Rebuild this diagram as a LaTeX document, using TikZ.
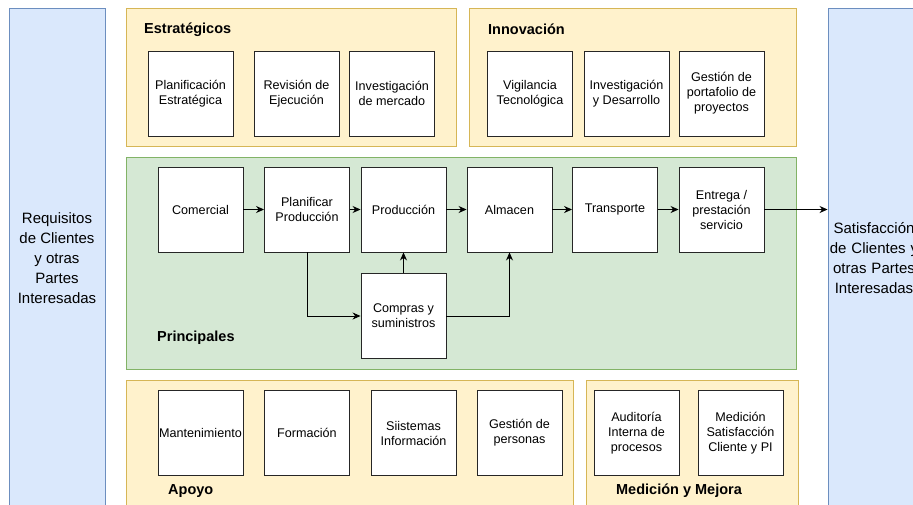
\documentclass[tikz,border=0pt]{standalone}
\usepackage{fontspec}
\setmainfont{Liberation Sans}
\usetikzlibrary{arrows.meta}
\definecolor{ylwfill}{HTML}{FFF2CC}
\definecolor{ylwline}{HTML}{D6B656}
\definecolor{grnfill}{HTML}{D5E8D4}
\definecolor{grnline}{HTML}{82B366}
\definecolor{blufill}{HTML}{DAE8FC}
\definecolor{bluline}{HTML}{6C8EBF}
\tikzset{
  ylwgroup/.style={draw=ylwline, fill=ylwfill, line width=0.9pt},
  grngroup/.style={draw=grnline, fill=grnfill, line width=0.9pt},
  bluepanel/.style={draw=bluline, fill=blufill, line width=0.9pt,
    minimum width=96pt, minimum height=500pt, inner sep=0pt,
    align=center, font=\fontsize{15}{20}\selectfont},
  procbox/.style={draw=black!85, fill=white, line width=0.9pt,
    minimum width=85pt, minimum height=85pt, inner sep=1pt,
    align=center, font=\fontsize{12.6}{15}\selectfont},
  grouptitle/.style={font=\bfseries\fontsize{14.5}{16}\selectfont, inner sep=0pt},
  flow/.style={draw=black, line width=0.9pt,
    -{Stealth[length=8pt,width=7pt]}},
}
\begin{document}
\begin{tikzpicture}[x=1pt,y=-1pt]
\useasboundingbox (0,0) rectangle (913,504);
\clip (0,0) rectangle (913,504);

% side panels: incoming requirements and outgoing satisfaction
\node[bluepanel] (req) at (57,258)
  {Requisitos\\de Clientes\\y otras\\Partes\\Interesadas};
\node[bluepanel, minimum width=100pt, text width=100pt] (sat) at (878,258)
  {\hspace*{-8pt}Satisfacción\\\hspace*{-8pt}de Clientes y\\\hspace*{-8pt}otras Partes\\\hspace*{-8pt}Interesadas};

% process groups
\draw[ylwgroup] (126,8) rectangle (456,146);
\draw[ylwgroup] (469,8) rectangle (796,146);
\draw[grngroup] (126,157) rectangle (796,369);
\draw[ylwgroup] (126,380) rectangle (573,520);
\draw[ylwgroup] (586,380) rectangle (798,520);

\node[grouptitle, anchor=west] (tEstr) at (144,29.5) {Estratégicos};
\node[grouptitle, anchor=west] (tInno) at (488,29.5) {Innovación};
\node[grouptitle, anchor=west] (tPrin) at (157,337.5) {Principales};
\node[grouptitle, anchor=west] (tApoy) at (168,491) {Apoyo};
\node[grouptitle] (tMed) at (679,491) {Medición y Mejora};

% strategic processes
\node[procbox] (pe) at (190.5,93.5) {Planificación\\Estratégica};
\node[procbox] (re) at (296.5,93.5) {Revisión de\\Ejecución};
\node[procbox] (im) at (392,93.5) {Investigación\\de mercado};

% innovation processes
\node[procbox] (vt) at (530,93.5) {Vigilancia\\Tecnológica};
\node[procbox] (id) at (626.5,93.5) {Investigación\\y Desarrollo};
\node[procbox] (gp) at (721.5,93.5) {Gestión de\\portafolio de\\proyectos};

% core processes
\node[procbox] (com) at (200.5,209.5) {Comercial};
\node[procbox] (plp) at (307,209.5) {Planificar\\Producción};
\node[procbox] (pro) at (403.5,209.5) {Producción};
\node[procbox] (alm) at (509.5,209.5) {Almacen};
\node[procbox] (tra) at (615,209.5) {Transporte};
\node[procbox] (ent) at (721.5,209.5) {Entrega /\\prestación\\servicio};
\node[procbox] (cmp) at (403.5,316) {Compras y\\suministros};

% support processes
\node[procbox] (man) at (200.5,433) {Mantenimiento};
\node[procbox] (frm) at (307,433) {Formación};
\node[procbox] (sis) at (413.5,433) {Siistemas\\Información};
\node[procbox] (gpe) at (519.5,433) {Gestión de\\personas};

% measurement and improvement
\node[procbox] (aud) at (636.5,433) {Auditoría\\Interna de\\procesos};
\node[procbox] (msc) at (740.5,433) {Medición\\Satisfacción\\Cliente y PI};

% main flow
\draw[flow] (com) -- (plp);
\draw[flow] (plp) -- (pro);
\draw[flow] (pro) -- (alm);
\draw[flow] (alm) -- (tra);
\draw[flow] (tra) -- (ent);
\draw[flow] (ent.east) -- (ent.east -| sat.west);
\draw[flow] (plp.south) |- (cmp.west);
\draw[flow] (cmp.north) -- (pro.south);
\draw[flow] (cmp.east) -| (alm.south);
\end{tikzpicture}
\end{document}
